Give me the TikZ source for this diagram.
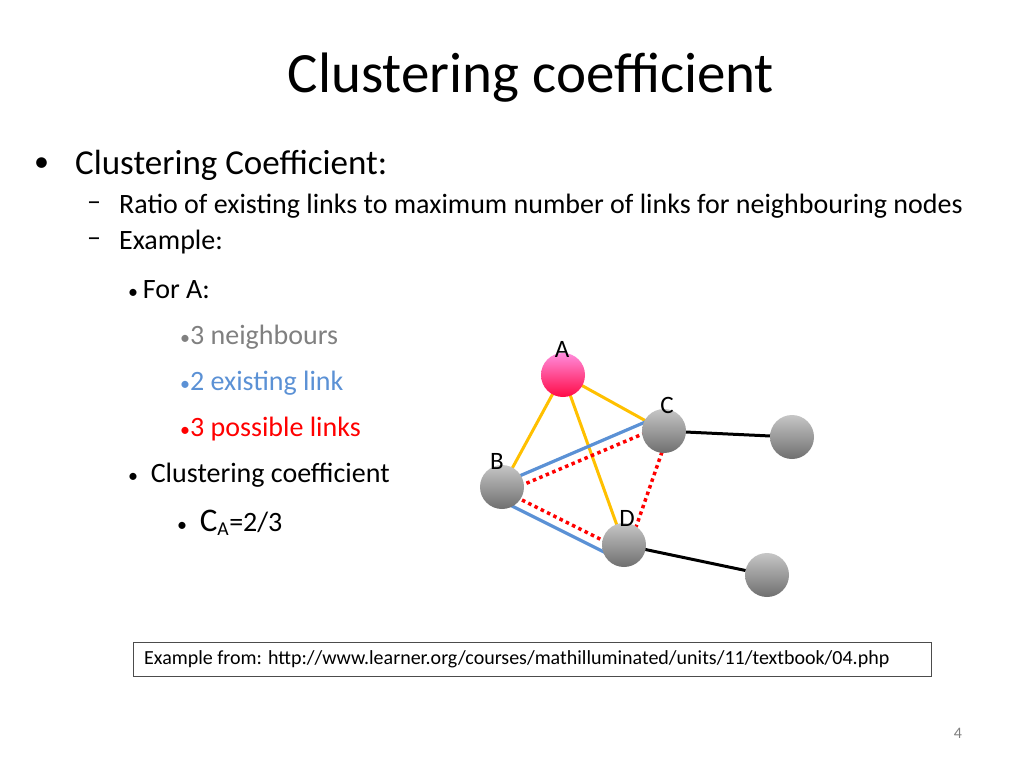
\documentclass[tikz,border=0pt]{standalone}
\usepackage{fontspec}
\setmainfont{Carlito}
\begin{document}
\begin{tikzpicture}[x=1pt,y=-1pt,
  txt/.style={anchor=west,inner sep=0pt},
  ball/.style={circle,minimum size=44pt,inner sep=0pt,top color=gray!45,bottom color=gray!75!black!90},
  yel/.style={draw={rgb,255:red,255;green,192;blue,0},line width=3pt},
  blu/.style={draw={rgb,255:red,91;green,145;blue,213},line width=3.2pt},
  redd/.style={draw=red,line width=3.5pt,dash pattern=on 3.5pt off 3.5pt},
  blk/.style={draw=black,line width=3pt}]
\useasboundingbox (0,0) rectangle (1024,768);
\node[inner sep=0pt] (title) at (531,78) {\fontsize{57}{62}\selectfont Clustering coefficient};
\node[txt] (b1) at (34,165) {\fontsize{30}{34}\selectfont \textbullet};
\node[txt] (t1) at (75,165) {\fontsize{35}{40}\selectfont Clustering Coefficient:};
\node[txt] (d1) at (87,206) {\fontsize{28}{32}\selectfont \textendash};
\node[txt] (t2) at (119,206) {\fontsize{28}{32}\selectfont Ratio of existing links to maximum number of links for neighbouring nodes};
\node[txt] (d2) at (87,242) {\fontsize{28}{32}\selectfont \textendash};
\node[txt] (t3) at (119,242) {\fontsize{28}{32}\selectfont Example:};
\node[txt] (t4) at (128,290) {\fontsize{28}{32}\selectfont {\fontsize{20}{24}\selectfont\textbullet}\,For A:};
\node[txt,text=gray] (t5) at (180,337) {\fontsize{28}{32}\selectfont {\fontsize{20}{24}\selectfont\textbullet}3 neighbours};
\node[txt,text={rgb,255:red,91;green,145;blue,213}] (t6) at (180,383) {\fontsize{28}{32}\selectfont {\fontsize{20}{24}\selectfont\textbullet}2 existing link};
\node[txt,text=red] (t7) at (180,429) {\fontsize{28}{32}\selectfont {\fontsize{20}{24}\selectfont\textbullet}3 possible links};
\node[txt] (t8) at (128,475) {\fontsize{28}{32}\selectfont {\fontsize{20}{24}\selectfont\textbullet}\ \ Clustering coefficient};
\node[txt] (t9) at (177,523) {\fontsize{28}{32}\selectfont {\fontsize{20}{24}\selectfont\textbullet}\ \ {\fontsize{33}{36}\selectfont C}\textsubscript{A}=2/3};
\coordinate (A) at (563,375);
\coordinate (C) at (664,431);
\coordinate (B) at (502,487);
\coordinate (D) at (624,545);
\coordinate (E) at (792,437);
\coordinate (F) at (767,575);
\draw[yel] (A) -- (B); \draw[yel] (A) -- (C); \draw[yel] (A) -- (D);
\draw[blk] (C) -- (E); \draw[blk] (D) -- (F);
\draw[blu] (510,480) -- (650,420);
\draw[blu] (510,505) -- (628,564);
\draw[redd] (520,486) -- (645,433);
\draw[redd] (522,500) -- (612,545);
\draw[redd] (662,452) -- (636,527);
\node[ball,top color={rgb,255:red,255;green,140;blue,220},bottom color={rgb,255:red,255;green,10;blue,70}] (nA) at (A) {};
\node[ball] (nB) at (B) {};
\node[ball] (nC) at (C) {};
\node[ball] (nD) at (D) {};
\node[ball] (nE) at (E) {};
\node[ball] (nF) at (F) {};
\node[inner sep=0pt] (lA) at (562,349) {\fontsize{25}{28}\selectfont A};
\node[inner sep=0pt] (lC) at (667,405) {\fontsize{25}{28}\selectfont C};
\node[inner sep=0pt] (lB) at (497,461) {\fontsize{25}{28}\selectfont B};
\node[inner sep=0pt] (lD) at (627,518) {\fontsize{25}{28}\selectfont D};
\node[draw=black!70,line width=1pt,minimum width=798pt,minimum height=34pt,inner sep=0pt] (box) at (532,659) {};
\node[txt] (src) at (144,659) {\fontsize{20}{23}\selectfont Example from: http://www.learner.org/courses/mathilluminated/units/11/textbook/04.php};
\node[inner sep=0pt,text=gray] (pg) at (958,733) {\fontsize{16}{18}\selectfont 4};
\end{tikzpicture}
\end{document}
